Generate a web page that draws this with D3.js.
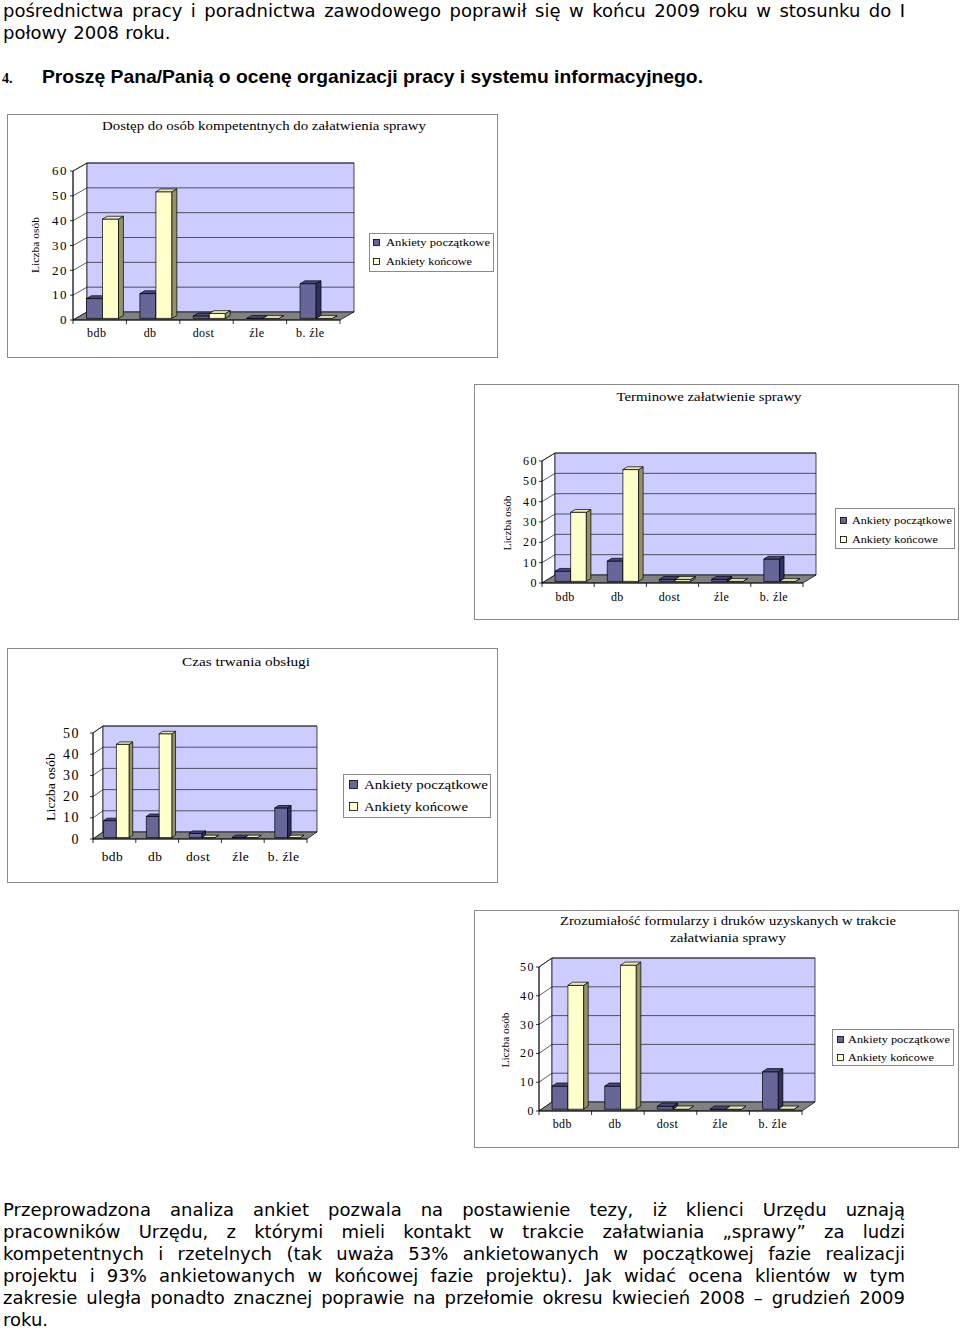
<!DOCTYPE html>
<html><head><meta charset="utf-8">
<script src="https://cdn.jsdelivr.net/npm/d3@7"></script>
<style>body{margin:0;background:#fff}svg{display:block}</style>
</head><body>
<svg id="page" width="960" height="1329"></svg>
<script>
// ---------- data ----------
const categories = ["bdb", "db", "dost", "źle", "b. źle"];
const seriesNames = ["Ankiety początkowe", "Ankiety końcowe"];
const ticks60 = [0, 10, 20, 30, 40, 50, 60];
const ticks50 = [0, 10, 20, 30, 40, 50];
const axisTitle = "Liczba osób";

const dostepTitle = ["Dostęp do osób kompetentnych do załatwienia sprawy"];
const dostepPocz = [8, 10, 1, 0, 14];
const dostepKonc = [40, 51, 2, 0, 0];

const terminTitle = ["Terminowe załatwienie sprawy"];
const terminPocz = [5, 10, 1, 1, 11];
const terminKonc = [34, 55, 1, 0, 0];

const czasTitle = ["Czas trwania obsługi"];
const czasPocz = [8, 10, 2, 0, 14];
const czasKonc = [44, 49, 0, 0, 0];

const zrozTitle = ["Zrozumiałość formularzy i druków uzyskanych w trakcie", "załatwiania sprawy"];
const zrozPocz = [8, 8, 1, 0, 13];
const zrozKonc = [43, 50, 0, 0, 0];

const topLines = [
  "pośrednictwa pracy i poradnictwa zawodowego poprawił się w końcu 2009 roku w stosunku do I",
  "połowy 2008 roku."
];
const headingNum = "4.";
const headingText = "Proszę Pana/Panią o ocenę organizacji pracy i systemu informacyjnego.";
const bottomLines = [
  "Przeprowadzona analiza ankiet pozwala na postawienie tezy, iż klienci Urzędu uznają",
  "pracowników Urzędu, z którymi mieli kontakt w trakcie załatwiania „sprawy” za ludzi",
  "kompetentnych i rzetelnych (tak uważa 53% ankietowanych w początkowej fazie realizacji",
  "projektu i 93% ankietowanych w końcowej fazie projektu). Jak widać ocena klientów w tym",
  "zakresie uległa ponadto znacznej poprawie na przełomie okresu kwiecień 2008 – grudzień 2009",
  "roku."
];

// ---------- helpers ----------
const svg = d3.select("#page");
const SERIF = "'Liberation Serif', 'DejaVu Serif', serif";
const SANS = "'DejaVu Sans', Verdana, sans-serif";

function txt(g, x, y, str, o) {
  const t = g.append("text").attr("x", x).attr("y", y).text(str)
    .attr("font-family", o.family || SERIF)
    .attr("font-size", o.size)
    .attr("fill", "#000")
    .attr("text-anchor", o.anchor || "start");
  if (o.weight) t.attr("font-weight", o.weight);
  if (o.len) t.attr("textLength", o.len).attr("lengthAdjust", "spacingAndGlyphs");
  if (o.transform) t.attr("transform", o.transform);
  return t;
}

const barColors = {
  front: ["#666699", "#ffffcc"],
  side:  ["#30305a", "#929266"],
  top:   ["#48487c", "#e8e8b8"]
};

function drawChart(cfg, pocz, konc, ticks, titleLines) {
  const g = svg.append("g");
  const [bx, by, bw, bh] = cfg.box;
  g.append("rect").attr("x", bx + 0.5).attr("y", by + 0.5).attr("width", bw).attr("height", bh)
    .attr("fill", "#fff").attr("stroke", "#8a8a8a").attr("stroke-width", 1);

  titleLines.forEach((t, i) => txt(g, cfg.title.x, cfg.title.ys[i], t,
    {size: cfg.title.size, anchor: "middle", len: cfg.title.lens[i]}));

  const maxV = d3.max(ticks);
  const y = d3.scaleLinear().domain([0, maxV]).range([cfg.y0, cfg.yTop]);
  const x = d3.scaleBand().domain(categories).range([cfg.x0, cfg.x0 + cfg.w]);
  const dx = cfg.dx, dy = cfg.dy;
  const P = (px, v, t) => [px + t * dx, y(v) - t * dy];
  const line = d3.line();
  const x0 = cfg.x0, x1 = cfg.x0 + cfg.w;

  // side wall
  g.append("path").attr("d", line([P(x0, 0, 0), P(x0, 0, 1), P(x0, maxV, 1), P(x0, maxV, 0)]) + "Z")
    .attr("fill", "#fdfdff").attr("stroke", "#000").attr("stroke-width", 0.7);
  // back wall
  g.append("path").attr("d", line([P(x0, 0, 1), P(x1, 0, 1), P(x1, maxV, 1), P(x0, maxV, 1)]) + "Z")
    .attr("fill", "#ccccff").attr("stroke", "#000").attr("stroke-width", 0.7);
  // gridlines
  g.selectAll("path.grid").data(ticks.filter(v => v > 0)).join("path").attr("class", "grid")
    .attr("d", v => line([P(x0, v, 0), P(x0, v, 1), P(x1, v, 1)]))
    .attr("fill", "none").attr("stroke", "#1a1a1a").attr("stroke-width", 0.7);
  // floor
  g.append("path").attr("d", line([P(x0, 0, 0), P(x1, 0, 0), P(x1, 0, 1), P(x0, 0, 1)]) + "Z")
    .attr("fill", "#808080").attr("stroke", "#000").attr("stroke-width", 0.7);

  // y axis
  g.append("path").attr("d", line([P(x0, 0, 0), P(x0, maxV, 0)])).attr("stroke", "#000").attr("stroke-width", 0.8);
  g.selectAll("path.yt").data(ticks).join("path").attr("class", "yt")
    .attr("d", v => line([[x0 - 3, y(v)], [x0, y(v)]])).attr("stroke", "#000").attr("stroke-width", 0.8);
  g.selectAll("text.yl").data(ticks).join("text").attr("class", "yl")
    .attr("x", cfg.tickLabelX).attr("y", v => y(v) + cfg.tickSize * 0.33)
    .attr("text-anchor", "end").attr("font-family", SERIF).attr("font-size", cfg.tickSize)
    .attr("letter-spacing", cfg.tickSpacing).text(v => v);

  // x axis
  g.append("path").attr("d", line([[x0, cfg.y0], [x1, cfg.y0]])).attr("stroke", "#000").attr("stroke-width", 0.8);
  const bounds = categories.map(c => x(c)).concat([x1]);
  g.selectAll("path.xt").data(bounds).join("path").attr("class", "xt")
    .attr("d", b => line([[b, cfg.y0], [b, cfg.y0 + 4]])).attr("stroke", "#000").attr("stroke-width", 0.8);
  g.selectAll("text.xl").data(categories).join("text").attr("class", "xl")
    .attr("x", c => x(c) + x.bandwidth() / 2 + cfg.catShift).attr("y", cfg.catY)
    .attr("text-anchor", "middle").attr("font-family", SERIF).attr("font-size", cfg.catSize)
    .attr("letter-spacing", 0.4).text(c => c);

  // bars
  const barW = x.bandwidth() * cfg.barFrac;
  const bars = [];
  categories.forEach((c, i) => {
    const cx = x(c) + x.bandwidth() / 2;
    [pocz[i], konc[i]].forEach((v, s) => {
      const xl = cx - barW + s * barW;
      bars.push({xl, xr: xl + barW, v, s});
    });
  });
  const f0 = cfg.f0, f1 = cfg.f1;
  const bg = g.selectAll("g.bar").data(bars).join("g").attr("class", "bar");
  const faceStyle = sel => sel.attr("stroke", "#000").attr("stroke-width", 0.7).attr("stroke-linejoin", "round");
  bg.append("path").attr("d", d => line([P(d.xl, 0, f0), P(d.xr, 0, f0), P(d.xr, d.v, f0), P(d.xl, d.v, f0)]) + "Z")
    .attr("fill", d => barColors.front[d.s]).call(faceStyle);
  bg.append("path").attr("d", d => line([P(d.xr, 0, f0), P(d.xr, 0, f1), P(d.xr, d.v, f1), P(d.xr, d.v, f0)]) + "Z")
    .attr("fill", d => barColors.side[d.s]).call(faceStyle);
  bg.append("path").attr("d", d => line([P(d.xl, d.v, f0), P(d.xr, d.v, f0), P(d.xr, d.v, f1), P(d.xl, d.v, f1)]) + "Z")
    .attr("fill", d => barColors.top[d.s]).call(faceStyle);

  // axis title
  txt(g, 0, 0, axisTitle, {size: cfg.yTitle.size, anchor: "middle", len: cfg.yTitle.len,
    transform: `translate(${cfg.yTitle.x},${cfg.yTitle.y}) rotate(-90)`});

  // legend
  const L = cfg.legend;
  g.append("rect").attr("x", L.x + 0.5).attr("y", L.y + 0.5).attr("width", L.w).attr("height", L.h)
    .attr("fill", "#fff").attr("stroke", "#8a8a8a");
  const lg = g.selectAll("g.leg").data(seriesNames).join("g").attr("class", "leg");
  lg.append("rect").attr("x", L.sx + 0.5).attr("y", (d, i) => L.rows[i] - L.ss - 0.5)
    .attr("width", L.ss).attr("height", L.ss)
    .attr("fill", (d, i) => barColors.front[i]).attr("stroke", "#000").attr("stroke-width", 0.8);
  lg.append("text").attr("x", L.tx).attr("y", (d, i) => L.rows[i])
    .attr("font-family", SERIF).attr("font-size", L.size)
    .attr("textLength", (d, i) => L.lens[i]).attr("lengthAdjust", "spacingAndGlyphs")
    .text(d => d);
}

// ---------- charts ----------
drawChart({
  box: [7, 114, 490, 243],
  title: {x: 264, ys: [130], lens: [324], size: 13},
  x0: 73, w: 267, y0: 320, yTop: 171, dx: 14, dy: 8, f0: 0.2, f1: 0.55, barFrac: 0.3,
  tickLabelX: 68, tickSize: 13, tickSpacing: 1.5, catY: 337, catSize: 12, catShift: -3,
  yTitle: {x: 39, y: 245, len: 56, size: 11},
  legend: {x: 369, y: 233, w: 124, h: 38, sx: 373, ss: 6, tx: 386, rows: [246, 265], lens: [104, 86], size: 11}
}, dostepPocz, dostepKonc, ticks60, dostepTitle);

drawChart({
  box: [474, 384, 484, 235],
  title: {x: 709, ys: [401], lens: [185], size: 13},
  x0: 542, w: 261, y0: 583, yTop: 461, dx: 13, dy: 8, f0: 0.2, f1: 0.55, barFrac: 0.3,
  tickLabelX: 538, tickSize: 12, tickSpacing: 1.5, catY: 601, catSize: 12, catShift: -3,
  yTitle: {x: 511, y: 523, len: 55, size: 11},
  legend: {x: 835, y: 508, w: 119, h: 40, sx: 840, ss: 6, tx: 852, rows: [524, 543], lens: [100, 86], size: 11}
}, terminPocz, terminKonc, ticks60, terminTitle);

drawChart({
  box: [7, 648, 490, 234],
  title: {x: 246, ys: [666], lens: [128], size: 13.5},
  x0: 93, w: 214, y0: 839, yTop: 733, dx: 10, dy: 7, f0: 0.2, f1: 0.55, barFrac: 0.3,
  tickLabelX: 80, tickSize: 14, tickSpacing: 1.5, catY: 861, catSize: 13.5, catShift: -2,
  yTitle: {x: 55, y: 787, len: 68, size: 13},
  legend: {x: 343, y: 774, w: 147, h: 43, sx: 349, ss: 8, tx: 364, rows: [789, 811], lens: [124, 104], size: 13}
}, czasPocz, czasKonc, ticks50, czasTitle);

drawChart({
  box: [474, 910, 484, 237],
  title: {x: 728, ys: [925, 942], lens: [336, 116], size: 13},
  x0: 539, w: 263, y0: 1111, yTop: 967, dx: 13, dy: 9, f0: 0.2, f1: 0.55, barFrac: 0.3,
  tickLabelX: 535, tickSize: 12, tickSpacing: 1.5, catY: 1128, catSize: 12, catShift: -3,
  yTitle: {x: 509, y: 1040, len: 55, size: 11},
  legend: {x: 832, y: 1029, w: 121, h: 36, sx: 837, ss: 6, tx: 848, rows: [1043, 1061], lens: [102, 86], size: 11}
}, zrozPocz, zrozKonc, ticks50, zrozTitle);

// ---------- body text ----------
const bodyG = svg.append("g").attr("font-family", SANS).attr("font-size", 18).attr("fill", "#000");
const LEFT = 3, RIGHT = 905, MINGAP = 6.3;

const bodySpec = [
  {text: topLines[0], y: 17, justify: true},
  {text: topLines[1], y: 39, justify: false}
].concat(bottomLines.map((t, i) => ({text: t, y: 1216 + 22 * i, justify: i < bottomLines.length - 1})));

// measure
bodySpec.forEach(sp => {
  sp.words = sp.text.split(" ");
  sp.nodes = sp.words.map(w => bodyG.append("text").attr("y", sp.y).text(w));
  sp.widths = sp.nodes.map(n => n.node().getComputedTextLength());
  sp.W = d3.sum(sp.widths);
});
let scale = 1;
bodySpec.filter(sp => sp.justify).forEach(sp => {
  const s = (RIGHT - LEFT - MINGAP * (sp.words.length - 1)) / sp.W;
  scale = Math.min(scale, s);
});
bodySpec.forEach(sp => {
  const n = sp.words.length;
  const gap = sp.justify && n > 1 ? (RIGHT - LEFT - sp.W * scale) / (n - 1) : MINGAP * scale;
  let cx = LEFT;
  sp.nodes.forEach((node, i) => {
    const w = sp.widths[i] * scale;
    node.attr("x", cx);
    if (scale < 1) node.attr("textLength", w).attr("lengthAdjust", "spacingAndGlyphs");
    cx += w + gap;
  });
});

// heading
txt(svg, 2, 83, headingNum, {size: 14, weight: "bold", family: SERIF});
txt(svg, 42, 83, headingText, {size: 19, weight: "bold", family: "'Liberation Sans', Arial, sans-serif", len: 661});
</script>
</body></html>
